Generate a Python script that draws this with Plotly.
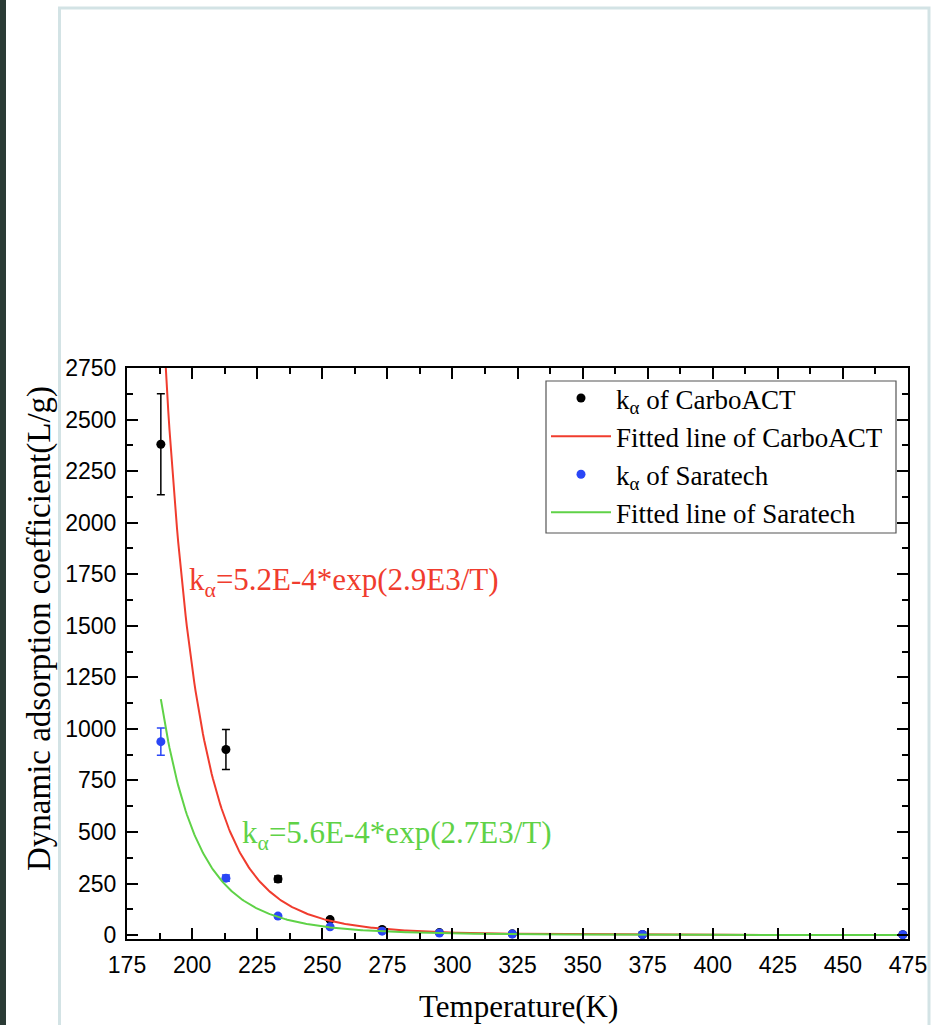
import numpy as np
import plotly.graph_objects as go

# ---- data ----
temperature = [188, 213, 233, 253, 273, 295, 323, 373, 473]
k_carbo = [2380, 900, 272, 75, 27, 12, 6, 3, 2]
err_carbo = [245, 97, 15, 8, 4, 2, 1, 1, 1]
k_sara = [938, 276, 92, 40, 19, 10, 5, 3, 2]
err_sara = [66, 15, 8, 6, 3, 2, 1, 1, 1]

# fitted curve parameters k = a*exp(b/T) (tuned to the drawn curves)
fit_carbo = (1.08e-3, 2800.0)
fit_sara = (1.92e-3, 2500.0)
fit_T_range = (188, 473)

x_ticks = list(range(175, 476, 25))
y_ticks = list(range(0, 2751, 250))

label_carbo_eq = "k<sub>α</sub>=5.2E-4*exp(2.9E3/T)"
label_sara_eq = "k<sub>α</sub>=5.6E-4*exp(2.7E3/T)"

RED = "#f03c2e"
GREEN = "#5fd247"
BLUE = "#2a46f6"
SERIF = "Liberation Serif, Times New Roman, serif"
SANS = "Liberation Sans, Arial, sans-serif"

Tfit = np.linspace(fit_T_range[0], fit_T_range[1], 600)

fig = go.Figure()
fig.add_trace(go.Scatter(
    x=temperature, y=k_carbo, mode="markers", name="k<sub>α</sub> of CarboACT",
    marker=dict(color="black", size=9),
    error_y=dict(type="data", array=err_carbo, color="black", thickness=1.5, width=4),
))
fig.add_trace(go.Scatter(
    x=Tfit, y=fit_carbo[0] * np.exp(fit_carbo[1] / Tfit), mode="lines",
    name="Fitted line of CarboACT", line=dict(color=RED, width=2),
))
fig.add_trace(go.Scatter(
    x=temperature, y=k_sara, mode="markers", name="k<sub>α</sub> of Saratech",
    marker=dict(color=BLUE, size=9),
    error_y=dict(type="data", array=err_sara, color=BLUE, thickness=1.5, width=4),
))
fig.add_trace(go.Scatter(
    x=Tfit, y=fit_sara[0] * np.exp(fit_sara[1] / Tfit), mode="lines",
    name="Fitted line of Saratech", line=dict(color=GREEN, width=2),
))

L, R, T, B = 127, 39, 368, 86
W, H = 947, 1025
pw, ph = W - L - R, H - T - B


def px(x):
    return (x - L) / pw


def py(y):
    return (H - B - y) / ph


axis_common = dict(
    showline=True, linecolor="black", linewidth=2, mirror="allticks",
    ticks="inside", ticklen=11, tickwidth=2, tickcolor="black",
    showgrid=False, zeroline=False,
    tickfont=dict(family=SANS, size=23, color="black"),
)

fig.update_layout(
    width=W, height=H,
    margin=dict(l=L, r=R, t=T, b=B, autoexpand=False),
    paper_bgcolor="white", plot_bgcolor="white",
    xaxis=dict(range=[175, 475], tickvals=x_ticks, ticklabelstandoff=4,
               minor=dict(dtick=12.5, tick0=175, ticks="inside", ticklen=6, tickwidth=2, tickcolor="black"),
               **axis_common),
    yaxis=dict(range=[-19, 2750], tickvals=y_ticks, ticklabelstandoff=4,
               minor=dict(dtick=125, tick0=0, ticks="inside", ticklen=6, tickwidth=2, tickcolor="black"),
               **axis_common),
    legend=dict(x=px(546), y=py(374), xanchor="left", yanchor="top",
                bgcolor="rgba(0,0,0,0)", borderwidth=0,
                font=dict(family=SERIF, size=27, color="black"), itemwidth=60),
    showlegend=True,
)

fig.add_annotation(x=198.0, y=1712, xref="x", yref="y", text=label_carbo_eq, showarrow=False,
                   xanchor="left", yanchor="middle", font=dict(family=SERIF, size=31, color=RED))
fig.add_annotation(x=218.4, y=485, xref="x", yref="y", text=label_sara_eq, showarrow=False,
                   xanchor="left", yanchor="middle", font=dict(family=SERIF, size=31, color=GREEN))

fig.add_annotation(x=px(518.5), y=py(1006), xref="paper", yref="paper", text="Temperature(K)",
                   showarrow=False, xanchor="center", yanchor="middle",
                   font=dict(family=SERIF, size=31, color="black"))
fig.add_annotation(x=px(39), y=py(629), xref="paper", yref="paper",
                   text="Dynamic adsorption coefficient(L/g)", textangle=-90,
                   showarrow=False, xanchor="center", yanchor="middle",
                   font=dict(family=SERIF, size=33, color="black"))

# legend frame
fig.add_shape(type="rect", xref="paper", yref="paper", x0=px(546), x1=px(896), y0=py(533), y1=py(381),
              fillcolor="white", line=dict(color="#555", width=1.2), layer="below")

# page decoration: dark strip at the left edge and light panel frame
fig.add_shape(type="rect", xref="paper", yref="paper", x0=px(0), x1=px(6), y0=py(1040), y1=py(-10),
              fillcolor="#2a3b35", line=dict(width=0), layer="below")
fig.add_shape(type="rect", xref="paper", yref="paper", x0=px(59.5), x1=px(929), y0=py(1040), y1=py(8),
              fillcolor="rgba(0,0,0,0)", line=dict(color="#d3e3e5", width=3), layer="below")

fig.write_html("out.html")
